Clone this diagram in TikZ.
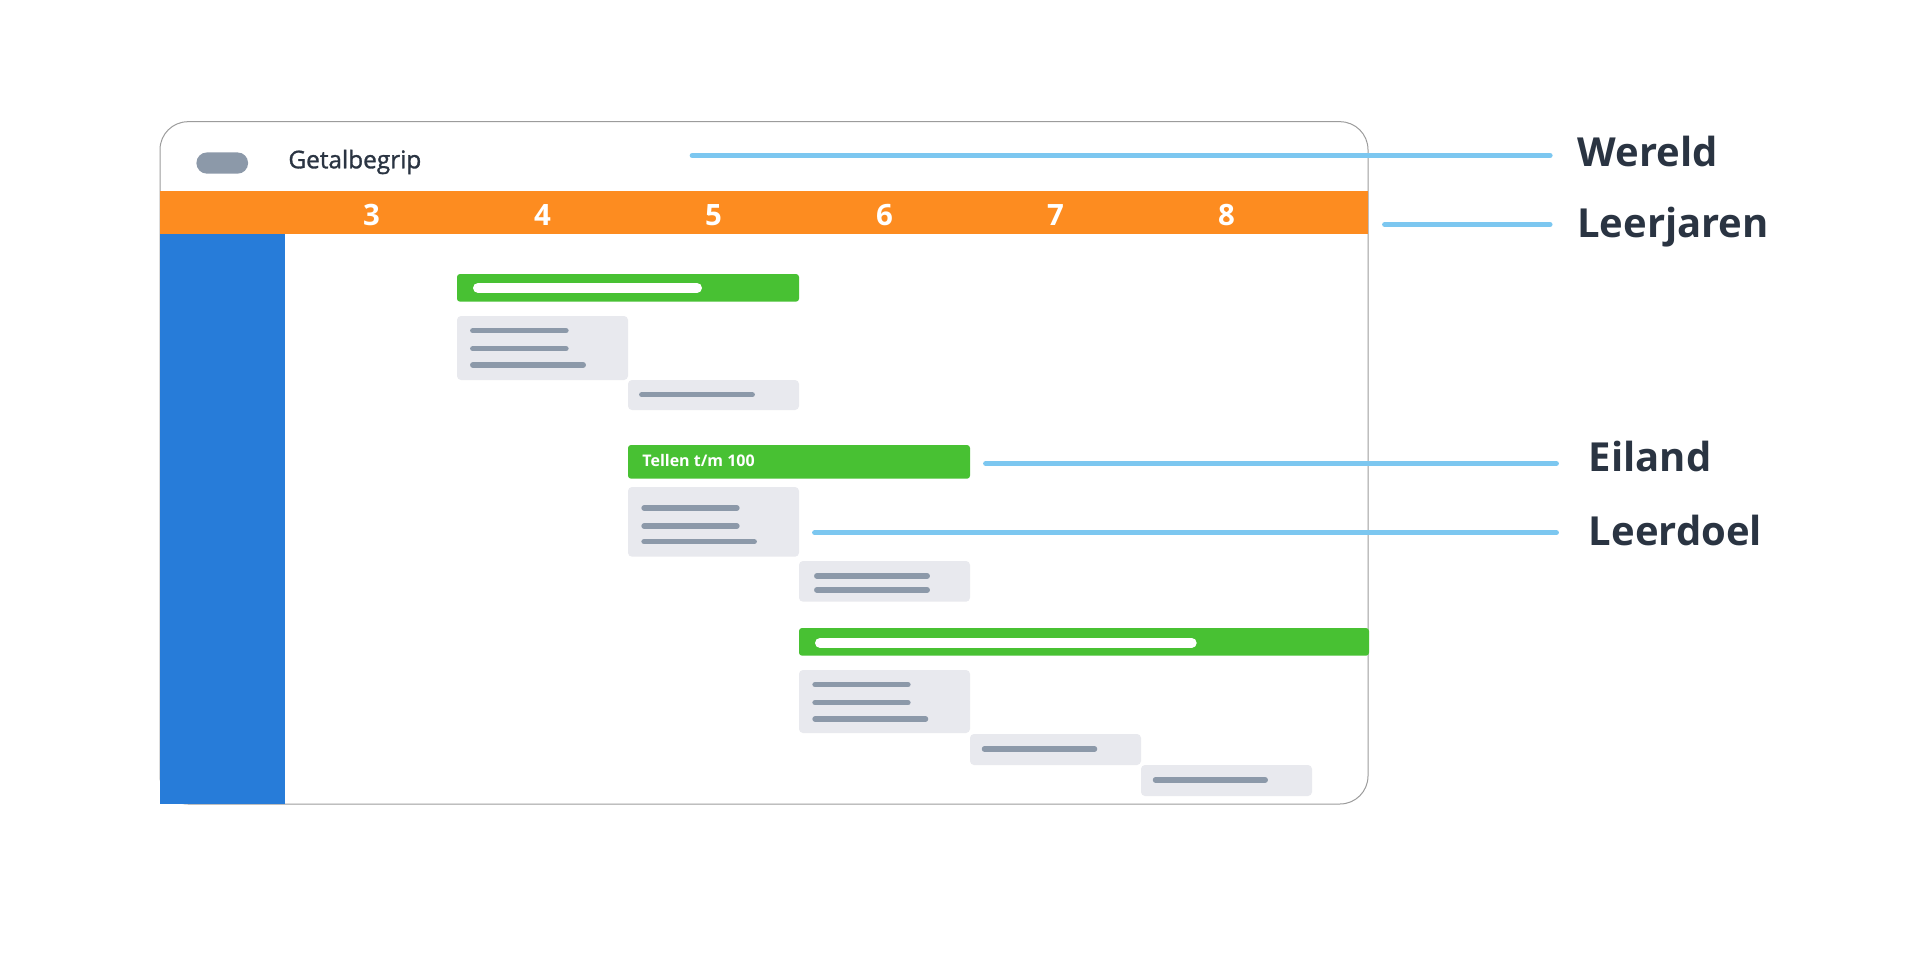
\documentclass[tikz,border=0pt]{standalone}
\usepackage{fontspec}
\setmainfont{Open Sans}
\newfontfamily\naamFont[FakeBold=1.2]{Open Sans}
\usetikzlibrary{calc, positioning}

\definecolor{jaarOrange}{HTML}{FD8C20}
\definecolor{wereldBlue}{HTML}{277CD9}
\definecolor{eilandGreen}{HTML}{48C133}
\definecolor{doelGray}{HTML}{E8E9EE}
\definecolor{lineGray}{HTML}{8C99A9}
\definecolor{leaderBlue}{HTML}{7CC7F0}
\definecolor{labelDark}{HTML}{2A3442}
\definecolor{frameGray}{HTML}{9C9C9C}

\tikzstyle{worldFrame} = [draw=frameGray, line width=0.5pt, fill=white, rounded corners=14pt]
\tikzstyle{eilandBar} = [rectangle, rounded corners=1.5pt, fill=eilandGreen, anchor=north west, inner sep=0pt, outer sep=0pt]
\tikzstyle{doelBox} = [rectangle, rounded corners=2pt, fill=doelGray, anchor=north west, inner sep=0pt, outer sep=0pt, minimum width=85.5pt]
\tikzstyle{togglePill} = [rectangle, rounded corners=5.3pt, fill=lineGray, anchor=north west, inner sep=0pt, minimum width=25.85pt, minimum height=10.65pt]
\tikzstyle{textLine} = [lineGray, line width=2.75pt, line cap=round, shorten >=1.4pt, shorten <=1.4pt]
\tikzstyle{whitePill} = [white, line width=5pt, line cap=round, shorten >=2.5pt, shorten <=2.5pt]
\tikzstyle{leader} = [leaderBlue, line width=2.75pt, line cap=round, shorten >=1.4pt, shorten <=1.4pt]
\tikzstyle{yearNum} = [text=white, font=\bfseries\fontsize{14.7}{16}\selectfont, anchor=base, inner sep=0pt]
\tikzstyle{sideLabel} = [text=labelDark, font=\bfseries\fontsize{20}{24}\selectfont, anchor=base west, inner sep=0pt]

\begin{document}
\begin{tikzpicture}[x=0.5pt, y=-0.5pt]

    \useasboundingbox (0,0) rectangle (1907,979);

    % wereld
    \draw [worldFrame] (160,121.7) rectangle (1368,804);
    \node (toggle) [togglePill] at (196,152) {};
    \node (wereldNaam) [anchor=base west, inner sep=0pt, text=labelDark, font=\naamFont\fontsize{12.2}{14}\selectfont] at (288,168.3) {Getalbegrip};

    % leerjaren
    \fill [jaarOrange] (160,191) rectangle (1368,234);
    \foreach \j [count=\i from 0] in {3,...,8} {
        \node (jaar\j) [yearNum] at (371.5+171*\i,225) {\j};
    }
    \fill [wereldBlue] (160,234) rectangle (285,804);

    % eilanden
    \node (eiland1) [eilandBar, minimum width=171pt, minimum height=13.85pt] at (457,274) {};
    \node (eiland2) [eilandBar, minimum width=171pt, minimum height=16.85pt] at (628,445) {};
    \node (eiland3) [eilandBar, minimum width=285pt, minimum height=13.85pt] at (799,628) {};

    \draw [whitePill] (473,287.9) -- (702,287.9);
    \draw [whitePill] (815,642.9) -- (1196.7,642.9);
    \node (eilandNaam) [anchor=base west, inner sep=0pt, text=white, font=\bfseries\fontsize{8}{10}\selectfont] at (642,466.7) {Tellen t/m 100};

    % leerdoelen
    \node (doel1) [doelBox, minimum height=32pt] at (457,316) {};
    \node (doel2) [doelBox, minimum height=15pt] at (628,380) {};
    \node (doel3) [doelBox, minimum height=34.85pt] at (628,487) {};
    \node (doel4) [doelBox, minimum height=20.35pt] at (799,561) {};
    \node (doel5) [doelBox, minimum height=31.5pt] at (799,670) {};
    \node (doel6) [doelBox, minimum height=15.5pt] at (970,734) {};
    \node (doel7) [doelBox, minimum height=15.5pt] at (1141,765) {};

    \foreach \y/\e in {330.7/568.7, 348.7/568.7, 365/586} {
        \draw [textLine] (470,\y) -- (\e,\y);
    }
    \draw [textLine] (639,394.7) -- (755,394.7);
    \foreach \y/\e in {508/739.7, 526/739.7, 541.7/757} {
        \draw [textLine] (641.3,\y) -- (\e,\y);
    }
    \foreach \y in {576, 590} {
        \draw [textLine] (814,\y) -- (930,\y);
    }
    \foreach \y/\e in {684.7/910.7, 702.7/910.7, 719/928.3} {
        \draw [textLine] (812.3,\y) -- (\e,\y);
    }
    \draw [textLine] (981.7,749) -- (1097.3,749);
    \draw [textLine] (1152.7,780) -- (1268,780);

    % labels
    \node (wereld) [sideLabel] at (1577.3,166.7) {Wereld};
    \node (leerjaren) [sideLabel] at (1576.8,237.3) {Leerjaren};
    \node (eiland) [sideLabel] at (1588.5,471.7) {Eiland};
    \node (leerdoel) [sideLabel] at (1588.5,545) {Leerdoel};

    \coordinate (wereldPt) at (689.6,155.5);
    \coordinate (jaarPt) at (1382,224.5);
    \coordinate (eilandPt) at (983,463.5);
    \coordinate (doelPt) at (812,532.7);

    \draw [leader] (wereldPt) -- ([xshift=-12.3pt]wereld.west |- wereldPt);
    \draw [leader] (jaarPt) -- ([xshift=-12.1pt]leerjaren.west |- jaarPt);
    \draw [leader] (eilandPt) -- ([xshift=-14.75pt]eiland.west |- eilandPt);
    \draw [leader] (doelPt) -- ([xshift=-14.75pt]leerdoel.west |- doelPt);

\end{tikzpicture}
\end{document}
